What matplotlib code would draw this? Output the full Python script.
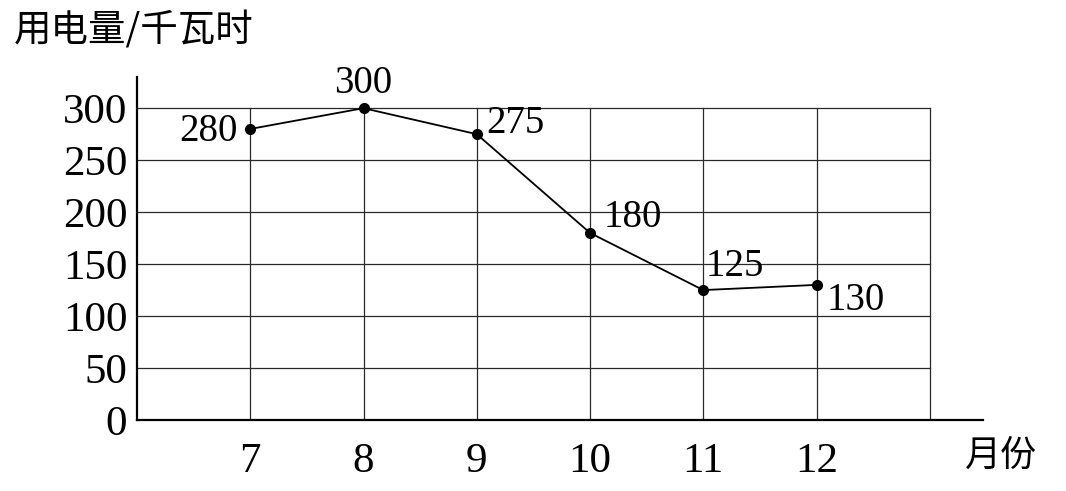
import matplotlib
matplotlib.use("Agg")
import matplotlib.pyplot as plt

months = [7, 8, 9, 10, 11, 12]
usage = [280, 300, 275, 180, 125, 130]
y_ticks = [0, 50, 100, 150, 200, 250, 300]
# label offsets in points, and alignment for each point label
label_offsets = [(-9, -9), (0, 11), (7, 1), (10, 4), (2, 10), (7, -18)]
label_ha = ["right", "center", "left", "left", "left", "left"]

serif = "Liberation Serif"
cjk = ["Noto Sans CJK SC", "DejaVu Sans"]

fig = plt.figure(figsize=(10.66, 4.91), dpi=100)
ax = fig.add_axes([137 / 1066, 71 / 491, 846 / 1066, 343 / 491])

ax.set_xlim(6, 13.47)
ax.set_ylim(0, 330)

# grid drawn inside the box 6..13 x 0..300
for y in y_ticks[1:]:
    ax.plot([6, 13], [y, y], color="#2a2a2a", lw=0.9, zorder=1)
for x in months + [13]:
    ax.plot([x, x], [0, 300], color="#2a2a2a", lw=0.9, zorder=1)

ax.plot(months, usage, color="black", lw=1.3, marker="o", ms=7, zorder=3)

for m, u, off, ha in zip(months, usage, label_offsets, label_ha):
    ax.annotate(str(u), (m, u), xytext=off, textcoords="offset points",
                ha=ha, va="baseline", fontsize=28, family=serif)

for s in ["top", "right"]:
    ax.spines[s].set_visible(False)
for s in ["left", "bottom"]:
    ax.spines[s].set_linewidth(1.6)

ax.set_yticks(y_ticks)
ax.set_xticks(months)
ax.tick_params(length=0)
ax.tick_params(axis="y", pad=7)
ax.tick_params(axis="x", pad=16)
for lab in ax.get_xticklabels() + ax.get_yticklabels():
    lab.set_fontfamily(serif)
    lab.set_fontsize(31)

fig.text(14 / 1066, 1 - 31 / 491, "用电量/千瓦时", family=cjk, fontsize=27,
         va="center", ha="left")
fig.text(1001 / 1066, 1 - 456 / 491, "月份", family=cjk, fontsize=26,
         va="center", ha="center")

fig.savefig("out.png", dpi=100)
